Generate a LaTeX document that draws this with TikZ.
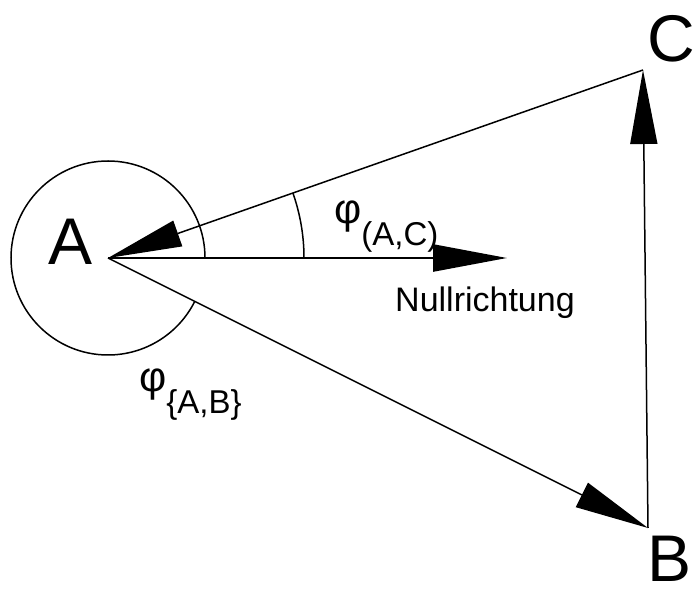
\documentclass[tikz,border=0pt]{standalone}
\usepackage{fontspec}
\setmainfont{Liberation Sans}
\usetikzlibrary{arrows.meta}
\newcommand{\phisub}[1]{φ\raisebox{-22pt}{\fontsize{33}{33}\selectfont #1}}

\begin{document}
\begin{tikzpicture}[
  x=1pt, y=1pt,
  line/.style={line width=1.5pt, draw=black},
  arrow/.style={line, -{Triangle[length=74pt, width=27pt]}},
  pointlabel/.style={inner sep=0pt, anchor=base west, font=\fontsize{66}{66}\selectfont},
  anglelabel/.style={inner sep=0pt, anchor=base west, font=\fontsize{42}{42}\selectfont},
  dirlabel/.style={inner sep=0pt, anchor=base west, font=\fontsize{34}{34}\selectfont}
]
\useasboundingbox (0,0) rectangle (696,589);

% points of the triangle
\coordinate (A) at (108,331);
\coordinate (B) at (648,61);
\coordinate (C) at (643,519);
\coordinate (null) at (507,331);

% angles
\draw[line] (A) ++(97,0) arc[start angle=0, end angle=333.4, radius=97];
\draw[line] (A) ++(196,0) arc[start angle=0, end angle=19.4, radius=196];

% sides and zero direction
\draw[arrow] (C) -- (A);
\draw[arrow] (A) -- (B);
\draw[arrow] (B) -- (C);
\draw[arrow, line width=2.6pt] (A) -- (null);

% labels
\node[pointlabel] (labA) at (48,324) {A};
\node[pointlabel] (labB) at (647,7) {B};
\node[pointlabel] (labC) at (647,527) {C};
\node[anglelabel] (phiAC) at (334,365) {\phisub{(A,C)}};
\node[anglelabel] (phiAB) at (139,197) {\phisub{\{A,B\}}};
\node[dirlabel] (nullname) at (395,277) {Nullrichtung};
\end{tikzpicture}
\end{document}
